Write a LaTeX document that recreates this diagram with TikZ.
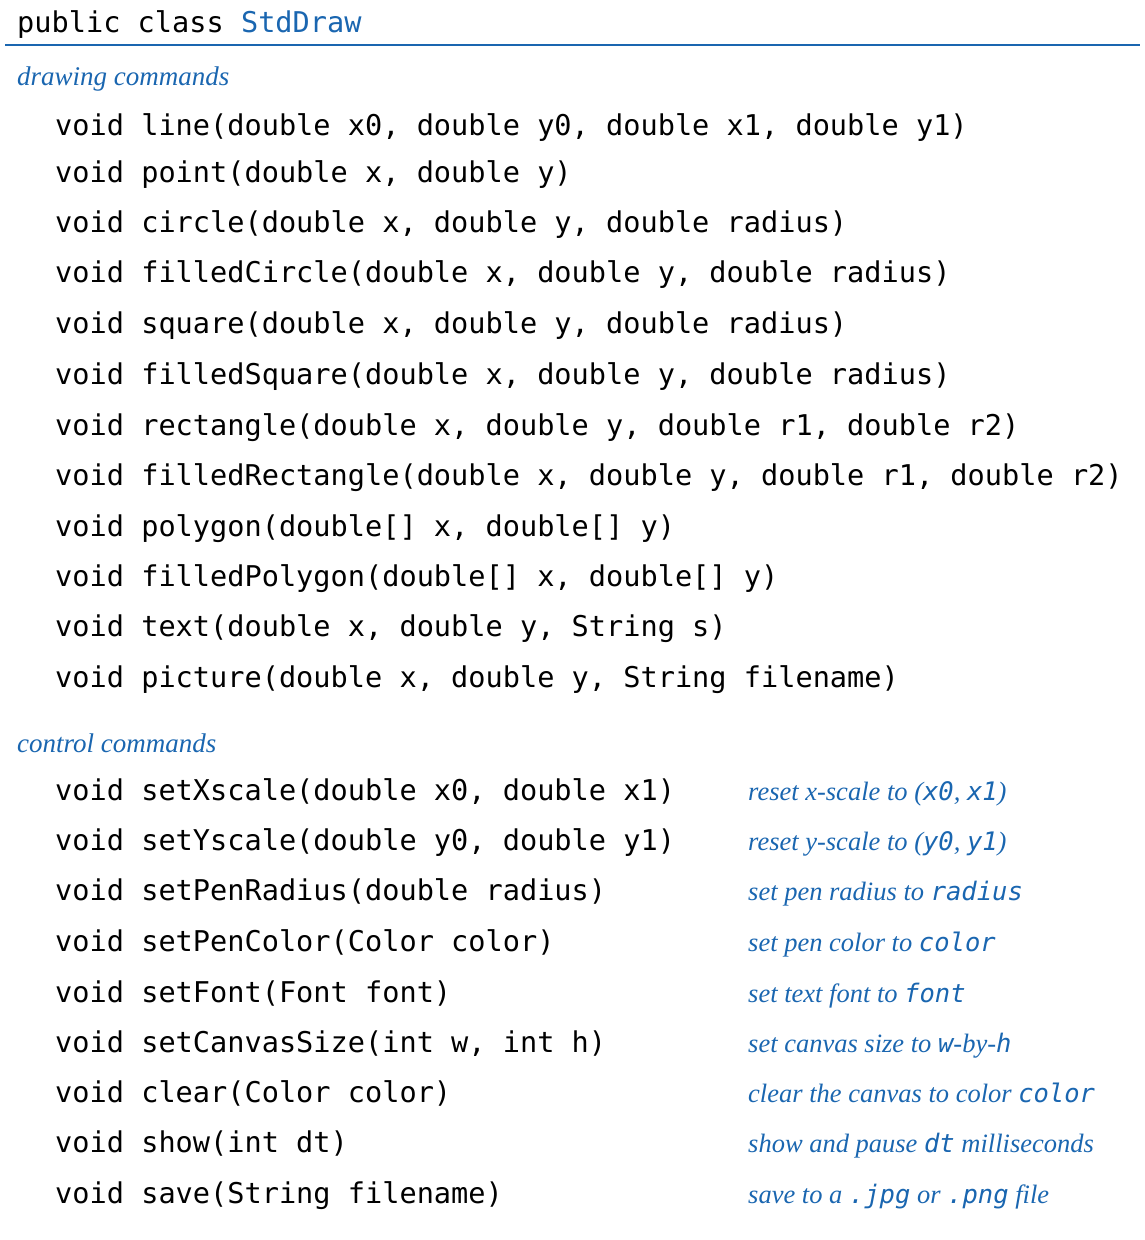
\documentclass[tikz,border=0pt]{standalone}
\usepackage{fontspec}
\setmainfont{Liberation Serif}
\setmonofont{DejaVu Sans Mono}
\definecolor{bk}{HTML}{1A66B0}
\begin{document}
\begin{tikzpicture}[x=1pt,y=-1pt,
  code/.style={anchor=base west,inner sep=0pt,font=\fontsize{28.6}{30}\ttfamily},
  cmt/.style={anchor=base west,inner sep=0pt,text=bk,font=\fontsize{26.5}{30}\itshape},
  hdr/.style={anchor=base west,inner sep=0pt,text=bk,font=\fontsize{27}{30}\itshape}]
\useasboundingbox (0,0) rectangle (1144,1240);
\newcommand{\mt}[1]{{\fontsize{25.5}{30}\ttfamily #1}}
\node[code] (title) at (17,32) {public class \textcolor{bk}{StdDraw}};
\draw[bk,line width=1.2pt] (5,45) -- (1140,45);
\node[hdr] (h1) at (17,85) {drawing commands};
\foreach \i/\y/\t in {
 1/125/{line(double x0, double y0, double x1, double y1)},
 2/172/{point(double x, double y)},
 3/222/{circle(double x, double y, double radius)},
 4/272/{filledCircle(double x, double y, double radius)},
 5/323/{square(double x, double y, double radius)},
 6/374/{filledSquare(double x, double y, double radius)},
 7/425/{rectangle(double x, double y, double r1, double r2)},
 8/475/{filledRectangle(double x, double y, double r1, double r2)},
 9/526/{polygon(double[] x, double[] y)},
 10/576/{filledPolygon(double[] x, double[] y)},
 11/626/{text(double x, double y, String s)},
 12/677/{picture(double x, double y, String filename)}}
 \node[code] (d\i) at (55,\y+10) {void \t};
\node[hdr] (h2) at (17,752) {control commands};
\foreach \i/\y/\t in {
 1/790/{setXscale(double x0, double x1)},
 2/840/{setYscale(double y0, double y1)},
 3/890/{setPenRadius(double radius)},
 4/941/{setPenColor(Color color)},
 5/992/{setFont(Font font)},
 6/1042/{setCanvasSize(int w, int h)},
 7/1092/{clear(Color color)},
 8/1142/{show(int dt)},
 9/1193/{save(String filename)}}
 \node[code] (c\i) at (55,\y+10) {void \t};
\node[cmt] (m1) at (748,800) {reset x-scale to (\mt{x0}, \mt{x1})};
\node[cmt] (m2) at (748,850) {reset y-scale to (\mt{y0}, \mt{y1})};
\node[cmt] (m3) at (748,900) {set pen radius to \mt{radius}};
\node[cmt] (m4) at (748,951) {set pen color to \mt{color}};
\node[cmt] (m5) at (748,1002) {set text font to \mt{font}};
\node[cmt] (m6) at (748,1052) {set canvas size to \mt{w}-by-\mt{h}};
\node[cmt] (m7) at (748,1102) {clear the canvas to color \mt{color}};
\node[cmt] (m8) at (748,1152) {show and pause \mt{dt} milliseconds};
\node[cmt] (m9) at (748,1203) {save to a \mt{.jpg} or \mt{.png} file};
\end{tikzpicture}
\end{document}
